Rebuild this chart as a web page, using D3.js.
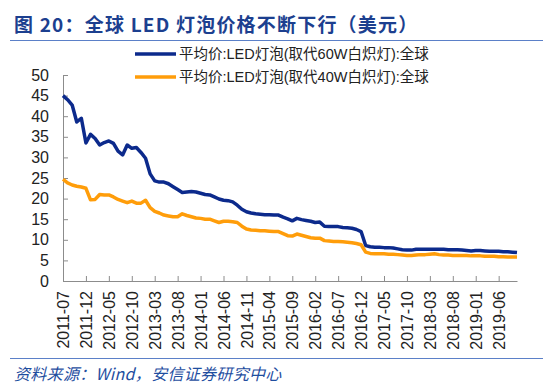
<!DOCTYPE html>
<html>
<head>
<meta charset="utf-8">
<script src="https://cdn.jsdelivr.net/npm/d3@7"></script>
<style>
  html, body { margin: 0; padding: 0; background: #fff; }
  svg { display: block; }
  text { font-family: "Liberation Sans", Arial, "Noto Sans CJK SC", sans-serif; }
</style>
</head>
<body>
<svg id="chart" width="550" height="384"></svg>
<script>
// Monatsdaten 2011-07 bis 2019-10 (Wind)
const startMonth = new Date(2011, 6, 1);
const endMonth = new Date(2019, 10, 1);
const months = d3.timeMonths(startMonth, endMonth).map(d3.timeFormat('%Y-%m'));

const tickLabels = ['2011-07', '2011-12', '2012-05', '2012-10', '2013-03', '2013-08', '2014-01',
  '2014-06', '2014-11', '2015-04', '2015-09', '2016-02', '2016-07', '2016-12', '2017-05',
  '2017-10', '2018-03', '2018-08', '2019-01', '2019-06'];

const yTicks = [0, 5, 10, 15, 20, 25, 30, 35, 40, 45, 50];

const seriesNames = ['平均价:LED灯泡(取代60W白炽灯):全球', '平均价:LED灯泡(取代40W白炽灯):全球'];

// 60W-Ersatz (blau)
const price60W = [
  45.0, 44.0, 42.7, 38.6, 39.5, 33.5, 35.6, 34.6, 33.0, 33.6,
  34.0, 33.4, 31.5, 30.6, 33.0, 32.2, 32.4, 31.2, 29.8, 26.0,
  24.3, 24.0, 24.0, 23.6, 22.9, 22.2, 21.5, 21.6, 21.7, 21.6,
  21.3, 21.0, 20.9, 20.4, 19.9, 19.6, 19.5, 19.2, 18.4, 17.4,
  16.8, 16.5, 16.3, 16.2, 16.1, 16.1, 16.0, 16.0, 15.5, 15.1,
  14.6, 15.2, 14.9, 14.7, 14.5, 14.2, 14.3, 13.3, 13.2, 13.2,
  13.2, 13.0, 12.9, 12.8, 12.5, 12.0, 8.6, 8.3, 8.2, 8.2,
  8.1, 8.1, 8.0, 7.8, 7.6, 7.5, 7.5, 7.7, 7.7, 7.7,
  7.7, 7.7, 7.7, 7.7, 7.6, 7.6, 7.6, 7.5, 7.4, 7.3,
  7.4, 7.4, 7.3, 7.2, 7.2, 7.2, 7.1, 7.1, 7.0, 6.9
];

// 40W-Ersatz (orange)
const price40W = [
  24.7, 23.8, 23.3, 23.0, 22.8, 22.5, 19.7, 19.8, 21.0, 20.9,
  20.9, 20.4, 19.8, 19.4, 19.0, 19.4, 18.9, 18.9, 19.6, 17.8,
  16.9, 16.5, 16.0, 15.8, 15.6, 15.6, 16.3, 15.9, 15.6, 15.3,
  15.2, 15.0, 15.0, 14.6, 14.2, 14.5, 14.5, 14.4, 14.2, 13.3,
  12.6, 12.4, 12.3, 12.2, 12.2, 12.1, 12.0, 12.0, 11.5, 11.0,
  10.9, 11.4, 11.1, 10.8, 10.5, 10.4, 10.4, 9.8, 9.7, 9.6,
  9.6, 9.5, 9.4, 9.3, 9.1, 8.8, 7.0, 6.7, 6.6, 6.6,
  6.6, 6.5, 6.5, 6.4, 6.3, 6.2, 6.2, 6.3, 6.4, 6.4,
  6.5, 6.6, 6.4, 6.3, 6.3, 6.2, 6.2, 6.2, 6.2, 6.1,
  6.1, 6.1, 6.0, 6.0, 6.0, 5.9, 5.9, 5.8, 5.8, 5.8
];

const colors = ['#0c2a8c', '#ff9d0a'];

const svg = d3.select('#chart');

// Titel
svg.append('text')
  .attr('x', 14).attr('y', 32)
  .attr('fill', '#1c3f8f')
  .style('font-size', '19px').style('font-weight', 'bold')
  .style('letter-spacing', '1.2px')
  .style('font-family', '"Noto Sans CJK SC", "Liberation Sans", sans-serif')
  .text('图 20：全球 LED 灯泡价格不断下行（美元）');

// Trennlinien oben und unten
svg.append('line').attr('x1', 10).attr('x2', 543).attr('y1', 40.5).attr('y2', 40.5)
  .attr('stroke', '#5b80c8').attr('stroke-width', 1.2);
svg.append('line').attr('x1', 10).attr('x2', 543).attr('y1', 358.5).attr('y2', 358.5)
  .attr('stroke', '#5b80c8').attr('stroke-width', 1.2);

// Quelle
svg.append('text')
  .attr('x', 14).attr('y', 380)
  .attr('fill', '#1f4e9f')
  .style('font-size', '16px').style('font-style', 'italic')
  .style('letter-spacing', '0.3px')
  .style('font-family', '"Noto Sans CJK SC", "Liberation Sans", sans-serif')
  .text('资料来源：Wind，安信证券研究中心');

// Skalen
const x = d3.scalePoint().domain(months).range([63, 517]);
const y = d3.scaleLinear().domain([0, 50]).range([281, 75]);

// Y-Achse
const yAxis = svg.append('g')
  .attr('transform', 'translate(63,0)')
  .call(d3.axisLeft(y).tickValues(yTicks).tickSizeInner(-5).tickSizeOuter(0).tickPadding(14));
yAxis.select('.domain').attr('stroke', '#8c8c8c');
yAxis.selectAll('.tick line').attr('stroke', '#8c8c8c');
yAxis.selectAll('text').style('font-size', '16px').attr('fill', '#222');

// X-Achse (Beschriftung alle 5 Monate, senkrecht)
const xAxis = svg.append('g')
  .attr('transform', 'translate(0,281)')
  .call(d3.axisBottom(x).tickValues(tickLabels).tickSizeInner(-5).tickSizeOuter(0));
xAxis.select('.domain').attr('stroke', '#8c8c8c');
xAxis.selectAll('.tick line').attr('stroke', '#8c8c8c');
xAxis.selectAll('text')
  .attr('transform', 'rotate(-90)')
  .attr('x', -10).attr('y', 0).attr('dy', '0.35em')
  .style('text-anchor', 'end')
  .style('font-size', '16px').attr('fill', '#222');

// Linien
const lineGen = d3.line()
  .x((d, i) => x(months[i]))
  .y(d => y(d));

[price60W, price40W].forEach((vals, i) => {
  svg.append('path')
    .datum(vals)
    .attr('d', lineGen)
    .attr('fill', 'none')
    .attr('stroke', colors[i])
    .attr('stroke-width', 3.5)
    .attr('stroke-linejoin', 'round');
});

// Legende
const legend = svg.append('g');
seriesNames.forEach((name, i) => {
  const ly = 54 + i * 23;
  legend.append('line')
    .attr('x1', 135).attr('x2', 176).attr('y1', ly).attr('y2', ly)
    .attr('stroke', colors[i]).attr('stroke-width', 3.5);
  legend.append('text')
    .attr('x', 179).attr('y', ly).attr('dy', '0.35em')
    .style('font-size', '14.5px').attr('fill', '#222')
    .text(name);
});
</script>
</body>
</html>
